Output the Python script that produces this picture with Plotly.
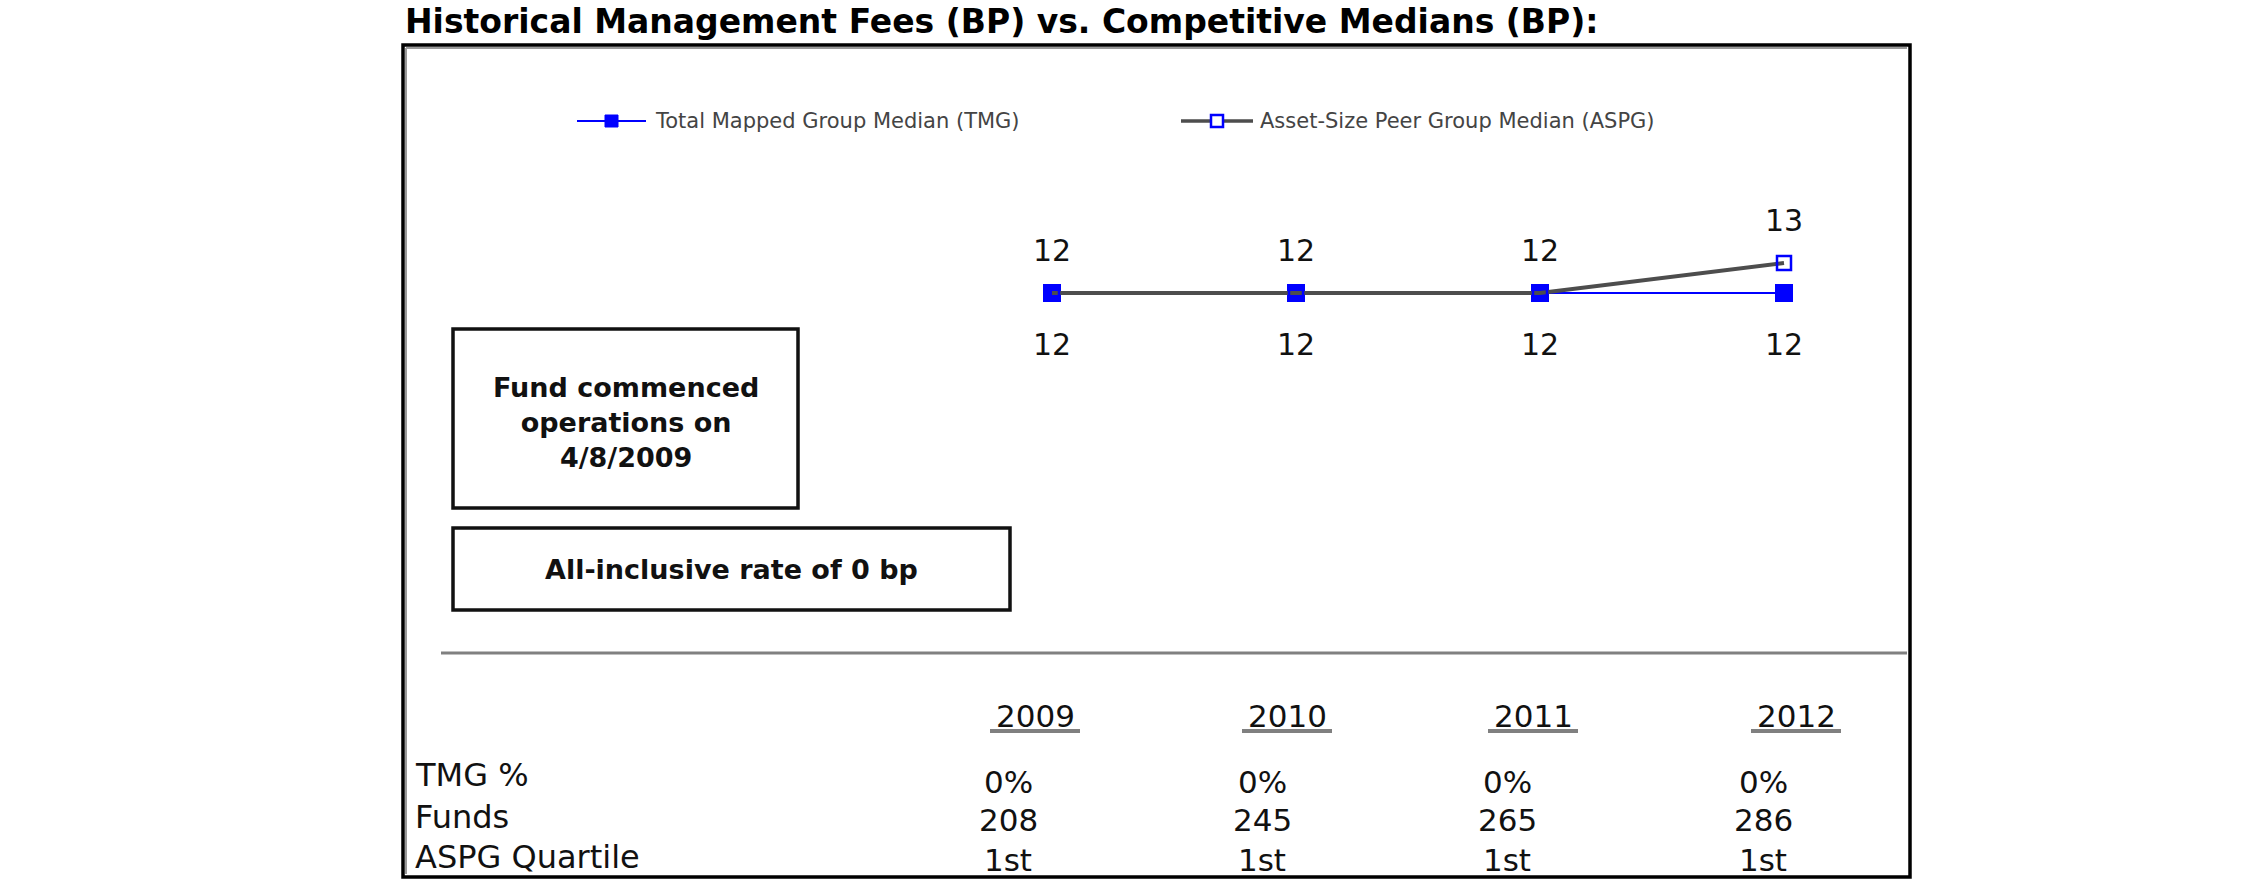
import plotly.graph_objects as go

# ---------------- data ----------------
years = [2009, 2010, 2011, 2012]
tmg_median = [12, 12, 12, 12]          # Total Mapped Group Median (bp)
aspg_median = [12, 12, 12, 13]         # Asset-Size Peer Group Median (bp)
tmg_pct = ["0%", "0%", "0%", "0%"]
funds = ["208", "245", "265", "286"]
aspg_quartile = ["1st", "1st", "1st", "1st"]
row_labels = ["TMG %", "Funds", "ASPG Quartile"]
series_names = ["Total Mapped Group Median (TMG)", "Asset-Size Peer Group Median (ASPG)"]
title_text = "Historical Management Fees (BP) vs. Competitive Medians (BP):"
box1_text = "Fund commenced<br>operations on<br>4/8/2009"
box2_text = "All-inclusive rate of 0 bp"

W, H = 2250, 895
FONT = "DejaVu Sans"
BLUE = "#0000FF"
GREY_LINE = "#4d4d4d"


def px(x):
    return x / W


def py(y):
    return 1 - y / H


fig = go.Figure()

# TMG series (drawn first, filled squares)
fig.add_trace(go.Scatter(
    x=years, y=tmg_median, mode="lines+markers", name=series_names[0],
    line=dict(color=BLUE, width=2),
    marker=dict(symbol="square", size=18, color=BLUE),
    showlegend=False, hoverinfo="skip"))
# ASPG series (grey line on top, open square markers)
fig.add_trace(go.Scatter(
    x=years, y=aspg_median, mode="lines+markers", name=series_names[1],
    line=dict(color=GREY_LINE, width=4),
    marker=dict(symbol="square-open", size=14, color=BLUE, line=dict(width=2.5)),
    showlegend=False, hoverinfo="skip"))

annotations = []
# data labels
for x, v in zip(years, tmg_median):
    annotations.append(dict(x=x, y=v, xref="x", yref="y", text=str(v), showarrow=False,
                            yshift=-51, font=dict(family=FONT, size=30, color="#111111")))
for x, v in zip(years, aspg_median):
    annotations.append(dict(x=x, y=v, xref="x", yref="y", text=str(v), showarrow=False,
                            yshift=43, font=dict(family=FONT, size=30, color="#111111")))

shapes = []

# Title
annotations.append(dict(x=px(403), y=py(21), xref="paper", yref="paper", text="<b>" + title_text + "</b>",
                        showarrow=False, xanchor="left", yanchor="middle",
                        font=dict(family=FONT, size=33, color="#000000")))

# Outer frame
shapes.append(dict(type="rect", xref="paper", yref="paper", x0=px(403), x1=px(1910), y0=py(45), y1=py(877),
                   line=dict(color="#000000", width=3.5)))
shapes.append(dict(type="line", xref="paper", yref="paper", x0=px(406), x1=px(406), y0=py(48), y1=py(874),
                   line=dict(color="#9a9a9a", width=2)))
shapes.append(dict(type="line", xref="paper", yref="paper", x0=px(406), x1=px(1907), y0=py(48), y1=py(48),
                   line=dict(color="#9a9a9a", width=2)))

# Legend (manual)
leg_y = 121
shapes.append(dict(type="line", xref="paper", yref="paper", x0=px(577), x1=px(646), y0=py(leg_y), y1=py(leg_y),
                   line=dict(color=BLUE, width=2)))
shapes.append(dict(type="rect", xref="paper", yref="paper", x0=px(605), x1=px(618), y0=py(leg_y - 6), y1=py(leg_y + 6),
                   line=dict(color=BLUE, width=1), fillcolor=BLUE))
annotations.append(dict(x=px(653), y=py(leg_y), xref="paper", yref="paper", text=series_names[0],
                        showarrow=False, xanchor="left", yanchor="middle",
                        font=dict(family=FONT, size=21, color="#444444")))
shapes.append(dict(type="line", xref="paper", yref="paper", x0=px(1181), x1=px(1253), y0=py(leg_y), y1=py(leg_y),
                   line=dict(color=GREY_LINE, width=3.5)))
shapes.append(dict(type="rect", xref="paper", yref="paper", x0=px(1211), x1=px(1223), y0=py(leg_y - 6), y1=py(leg_y + 6),
                   line=dict(color=BLUE, width=2.5), fillcolor="white"))
annotations.append(dict(x=px(1258), y=py(leg_y), xref="paper", yref="paper", text=series_names[1],
                        showarrow=False, xanchor="left", yanchor="middle",
                        font=dict(family=FONT, size=21, color="#444444")))

# Info boxes
shapes.append(dict(type="rect", xref="paper", yref="paper", x0=px(453), x1=px(798), y0=py(329), y1=py(508),
                   line=dict(color="#111111", width=3.5)))
annotations.append(dict(x=px(626), y=py(422), xref="paper", yref="paper", text="<b>" + box1_text + "</b>",
                        showarrow=False, xanchor="center", yanchor="middle",
                        font=dict(family=FONT, size=27, color="#111111")))
shapes.append(dict(type="rect", xref="paper", yref="paper", x0=px(453), x1=px(1010), y0=py(528), y1=py(610),
                   line=dict(color="#111111", width=3.5)))
annotations.append(dict(x=px(732), y=py(569), xref="paper", yref="paper", text="<b>" + box2_text + "</b>",
                        showarrow=False, xanchor="center", yanchor="middle",
                        font=dict(family=FONT, size=27, color="#111111")))

# Separator
shapes.append(dict(type="line", xref="paper", yref="paper", x0=px(441), x1=px(1907), y0=py(653), y1=py(653),
                   line=dict(color="#808080", width=3)))

# Table
year_centers = [1035, 1287, 1533, 1796]
value_centers = [1008, 1262, 1507, 1763]
for yr, cx in zip(years, year_centers):
    annotations.append(dict(x=px(cx), y=py(716), xref="paper", yref="paper", text=str(yr),
                            showarrow=False, xanchor="center", yanchor="middle",
                            font=dict(family=FONT, size=31, color="#111111")))
    shapes.append(dict(type="line", xref="paper", yref="paper", x0=px(cx - 45), x1=px(cx + 45),
                       y0=py(731), y1=py(731), line=dict(color="#808080", width=4)))

row_ys = [775, 817, 857]
val_ys = [782, 820, 860]
for lab, ry in zip(row_labels, row_ys):
    annotations.append(dict(x=px(413), y=py(ry), xref="paper", yref="paper", text=lab,
                            showarrow=False, xanchor="left", yanchor="middle",
                            font=dict(family=FONT, size=32, color="#111111")))
for row, vy in zip([tmg_pct, funds, aspg_quartile], val_ys):
    for val, cx in zip(row, value_centers):
        annotations.append(dict(x=px(cx), y=py(vy), xref="paper", yref="paper", text=val,
                                showarrow=False, xanchor="center", yanchor="middle",
                                font=dict(family=FONT, size=31, color="#111111")))

# axes: place data with the library's scales
x_left_px, x_right_px = 440, 1905
y_top_px, y_bot_px = 130, 640
x0_px, dx_px = 1052, 244          # pixel of first year, pixels per year
y12_px, dy_px = 293, 30           # pixel of value 12, pixels per bp
xr = [years[0] + (x_left_px - x0_px) / dx_px, years[0] + (x_right_px - x0_px) / dx_px]
yr_ = [12 - (y_bot_px - y12_px) / dy_px, 12 + (y12_px - y_top_px) / dy_px]

fig.update_layout(
    width=W, height=H, autosize=False,
    margin=dict(l=0, r=0, t=0, b=0),
    paper_bgcolor="white", plot_bgcolor="white",
    xaxis=dict(domain=[px(x_left_px), px(x_right_px)], range=xr, visible=False, fixedrange=True),
    yaxis=dict(domain=[py(y_bot_px), py(y_top_px)], range=yr_, visible=False, fixedrange=True),
    shapes=shapes, annotations=annotations, showlegend=False,
    font=dict(family=FONT),
)

fig.write_html("out.html", config={"displayModeBar": False},
               post_script="document.body.style.margin='0';document.body.style.overflow='hidden';")
